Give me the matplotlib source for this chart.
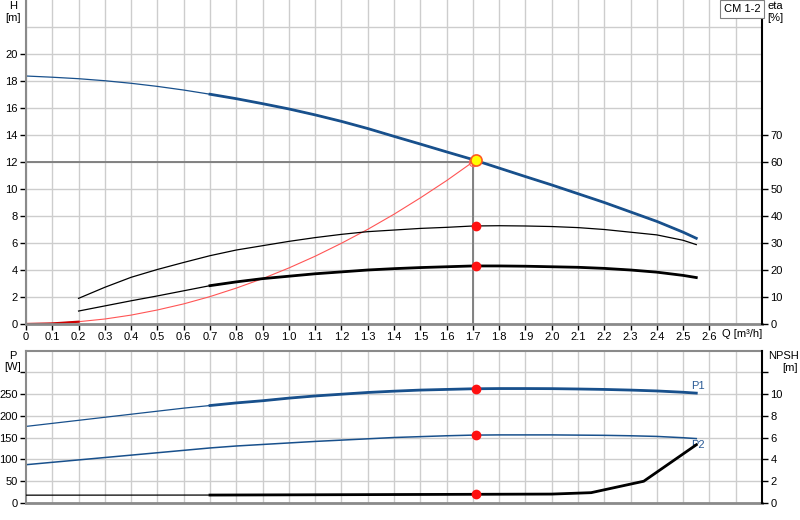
import numpy as np
import matplotlib
matplotlib.use('Agg')
import matplotlib.pyplot as plt

plt.rcParams['font.family'] = ['Liberation Sans', 'DejaVu Sans']
plt.rcParams['font.size'] = 8

# pump curve data
q = [0, 0.1, 0.2, 0.3, 0.4, 0.5, 0.6, 0.7, 0.8, 0.9, 1.0, 1.1, 1.2, 1.3,
     1.4, 1.5, 1.6, 1.7, 1.8, 1.9, 2.0, 2.1, 2.2, 2.3, 2.4, 2.5, 2.55]
head = [18.37, 18.28, 18.17, 18.02, 17.83, 17.6, 17.33, 17.02, 16.69, 16.32,
        15.93, 15.49, 15.01, 14.48, 13.9, 13.33, 12.75, 12.18, 11.55, 10.92,
        10.3, 9.65, 9.0, 8.3, 7.6, 6.8, 6.35]
q_eta = q[2:]
eta_pump = [9.5, 13.6, 17.3, 20.2, 22.8, 25.3, 27.4, 29.0, 30.6, 32.0, 33.2,
            34.2, 34.8, 35.4, 35.8, 36.3, 36.4, 36.3, 36.1, 35.7, 35.0, 34.0,
            33.0, 31.0, 29.4]
eta_total = [4.8, 6.7, 8.6, 10.4, 12.3, 14.2, 15.6, 16.8, 17.7, 18.6, 19.3,
             20.0, 20.5, 20.9, 21.2, 21.5, 21.5, 21.4, 21.2, 21.0, 20.6, 20.0,
             19.2, 18.0, 17.2]
q_sys = q[:18]
head_sys = [0, 0.04, 0.17, 0.37, 0.66, 1.04, 1.49, 2.03, 2.66, 3.36, 4.15,
            5.02, 5.98, 7.01, 8.13, 9.34, 10.62, 12.0]
p1 = [176, 183, 190, 197, 204, 211, 218, 224, 230, 235, 241, 246, 250, 254,
      257, 259.5, 261, 262.5, 263, 263, 262.8, 262, 261, 259.5, 257.5, 254.5,
      252.5]
p2 = [88, 93.5, 99, 104.5, 110, 115.5, 121, 126.5, 131, 134.5, 138, 141.5,
      144.5, 147.5, 150.5, 152.5, 154.5, 156, 156.5, 156.5, 156.5, 156, 155.5,
      154.5, 153, 150, 148]
q_npsh = [0, 0.7, 1.0, 1.72, 2.0, 2.15, 2.35, 2.55]
npsh = [0.72, 0.73, 0.75, 0.8, 0.82, 0.95, 2.0, 5.35]

duty_q = 1.712
duty_h = 12.12
req_q = 1.7
req_h = 12.0
q_min = 0.7   # start of the thick (recommended) range

blue = '#18508c'
grid_c = '#cdcdcd'
spine_c = '#8a8a8a'

fig = plt.figure(figsize=(8, 5.2), dpi=100)
ax1 = fig.add_axes([26/800, 1-324/520, 736/800, 324/520])
ax2 = fig.add_axes([26/800, 1-503/520, 736/800, 152.3/520])


def style(ax, top_spine):
    ax.set_xlim(0, 2.8)
    ax.set_xticks(np.arange(0.1, 2.75, 0.1), minor=True)
    ax.grid(True, which='both', axis='x', color=grid_c, lw=1.0)
    ax.grid(True, which='major', axis='y', color=grid_c, lw=1.0)
    ax.set_axisbelow(True)
    ax.spines['left'].set_color(spine_c)
    ax.spines['left'].set_linewidth(1.5)
    ax.spines['bottom'].set_color(spine_c)
    ax.spines['bottom'].set_linewidth(2)
    ax.spines['right'].set_visible(False)
    ax.spines['top'].set_visible(top_spine)
    ax.spines['top'].set_color(spine_c)
    ax.spines['top'].set_linewidth(1.5)
    ax.tick_params(axis='y', length=4, width=1, color='black', pad=2)


style(ax1, False)
style(ax2, True)

# ---- top panel: head / efficiency
ax1.set_ylim(0, 24)
ax1.set_yticks(np.arange(0, 22, 2))
ax1.axhline(22, color=grid_c, lw=1.0, zorder=0)
xt = np.arange(0, 2.65, 0.1)
ax1.set_xticks(xt)
ax1.set_xticklabels(['0' if v == 0 else '%.1f' % v for v in xt])
ax1.grid(True, which='major', axis='x', color=grid_c, lw=1.0)
ax1.tick_params(axis='x', length=4, width=1, color='black', pad=2)
ax1.tick_params(axis='x', which='minor', length=0)

ax1r = ax1.twinx()
ax1r.set_ylim(0, 120)
ax1r.set_yticks(np.arange(0, 80, 10))
ax1r.spines['right'].set_color('black')
ax1r.spines['right'].set_linewidth(1.5)
for s in ['left', 'top', 'bottom']:
    ax1r.spines[s].set_visible(False)
ax1r.tick_params(axis='y', length=4, width=1, pad=2)

i0 = q.index(q_min)
ax1.plot(q, head, color=blue, lw=0.9)
ax1.plot(q[i0:], head[i0:], color=blue, lw=2.0)

ax1.plot(q_sys, head_sys, color='#ff5555', lw=0.8)
ax1.plot(q_sys[:3], head_sys[:3], color='#cc0000', lw=1.6)

ie = q_eta.index(q_min)
ax1r.plot(q_eta, eta_pump, color='black', lw=0.9)
ax1r.plot(q_eta, eta_total, color='black', lw=0.9)
ax1r.plot(q_eta[ie:], eta_total[ie:], color='black', lw=2.0)

# duty point lines
ax1.plot([0, req_q], [req_h, req_h], color='#7a7a7a', lw=1.3, zorder=1.5)
ax1.plot([req_q, req_q], [0, req_h], color='#7a7a7a', lw=1.3, zorder=1.5)
ax1.plot(req_q, req_h, 'o', ms=6, mfc='none', mec='#ff6060', mew=0.8)
ax1.plot(duty_q, duty_h, 'o', ms=8, mfc='#ffff00', mec='#ff5a1e', mew=1.2,
         zorder=5)
ax1r.plot(duty_q, np.interp(duty_q, q_eta, eta_pump), 'o', ms=6,
          color='#ff1010')
ax1r.plot(duty_q, np.interp(duty_q, q_eta, eta_total), 'o', ms=6,
          color='#ff1010')

# ---- bottom panel: power / NPSH
ax2.set_ylim(0, 350)
ax2.set_yticks(np.arange(0, 350, 50))
ax2.set_yticklabels([str(v) if v <= 250 else '' for v in range(0, 350, 50)])
ax2.set_xticks([])
ax2.tick_params(axis='x', which='both', length=0)

ax2r = ax2.twinx()
ax2r.set_ylim(0, 14)
ax2r.set_yticks(np.arange(0, 14, 2))
ax2r.set_yticklabels([str(v) if v <= 10 else '' for v in range(0, 14, 2)])
ax2r.spines['right'].set_color('black')
ax2r.spines['right'].set_linewidth(1.5)
for s in ['left', 'top', 'bottom']:
    ax2r.spines[s].set_visible(False)
ax2r.tick_params(axis='y', length=4, width=1, pad=2)

ax2.plot(q, p1, color=blue, lw=0.9)
ax2.plot(q[i0:], p1[i0:], color=blue, lw=2.0)
ax2.plot(q, p2, color=blue, lw=1.1)
ax2r.plot(q_npsh, npsh, color='black', lw=0.9)
ax2r.plot(q_npsh[1:], npsh[1:], color='black', lw=2.0)

ax2.plot(duty_q, np.interp(duty_q, q, p1), 'o', ms=6, color='#ff1010')
ax2.plot(duty_q, np.interp(duty_q, q, p2), 'o', ms=6, color='#ff1010')
ax2r.plot(duty_q, np.interp(duty_q, q_npsh, npsh), 'o', ms=6,
          color='#ff1010', zorder=5)

ax2.text(q[-1] - 0.02, p1[-1] + 6, 'P1', color='#2a5a95', fontsize=8,
         ha='left', va='bottom')
ax2.text(q[-1] - 0.02, p2[-1] - 3, 'P2', color='#2a5a95', fontsize=8,
         ha='left', va='top')

# ---- axis titles and labels
fig.text(13/800, 1-6/520, 'H', ha='center', va='center')
fig.text(13/800, 1-18/520, '[m]', ha='center', va='center')
fig.text(767/800, 1-6/520, 'eta', ha='left', va='center')
fig.text(767/800, 1-18/520, '[%]', ha='left', va='center')
fig.text(13/800, 1-356/520, 'P', ha='center', va='center')
fig.text(13/800, 1-367/520, '[W]', ha='center', va='center')
fig.text(799/800, 1-356/520, 'NPSH', ha='right', va='center')
fig.text(790/800, 1-368/520, '[m]', ha='center', va='center')
fig.text(722/800, 1-334/520, 'Q [m³/h]', ha='left', va='center')
fig.text(742/800, 1-9/520, 'CM 1-2', ha='center', va='center',
         bbox=dict(boxstyle='square,pad=0.35', fc='white', ec='#808080',
                   lw=0.8))

fig.savefig('out.png', dpi=100)
